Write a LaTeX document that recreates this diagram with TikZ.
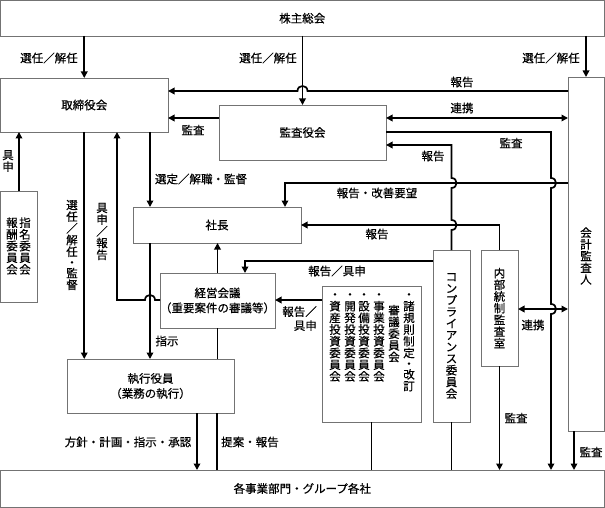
\documentclass[tikz,border=0pt]{standalone}
\usepackage{fontspec}
\setmainfont{Noto Sans CJK JP}[FakeBold=0.5]
\usetikzlibrary{arrows.meta}
\begin{document}
\begin{tikzpicture}[x=1pt,y=-1pt,
  box/.style={draw=black!55, line width=0.9pt, fill=white, inner sep=0pt, outer sep=0pt, anchor=north west, align=center, font=\fontsize{11.5}{15}\selectfont},
  con/.style={line width=1.7pt, draw=black},
  arr/.style={con, -{Triangle[length=6.5pt,width=6.5pt]}},
  darr/.style={con, {Triangle[length=6.5pt,width=6.5pt]}-{Triangle[length=6.5pt,width=6.5pt]}},
  lbl/.style={inner sep=0pt, font=\fontsize{11.5}{14}\selectfont},
  vt/.style={inner sep=0pt, align=center, font=\fontsize{11.5}{11.7}\selectfont}]
\useasboundingbox (0,0) rectangle (605,508);

% boxes
\node[box, minimum width=603.5pt, minimum height=35.5pt] (kabu) at (0.5,0.5) {株主総会};
\node[box, minimum width=167.5pt, minimum height=54pt] (tori) at (0.5,78) {取締役会};
\node[box, minimum width=167pt, minimum height=55pt] (kansa) at (219,105) {監査役会};
\node[box, minimum width=36pt, minimum height=354pt] (kaikei) at (568,77) {};
\node[box, minimum width=36.5pt, minimum height=111pt] (shimei) at (0.5,191) {};
\node[box, minimum width=168pt, minimum height=36pt] (shacho) at (133,207) {社長};
\node[box, minimum width=114pt, minimum height=55pt] (keiei) at (160,273) {経営会議\\（重要案件の審議等）};
\node[box, minimum width=99pt, minimum height=136pt] (comm) at (322,286) {};
\node[box, minimum width=37pt, minimum height=172pt] (comp) at (433,250) {};
\node[box, minimum width=37pt, minimum height=116pt] (naibu) at (481,250) {};
\node[box, minimum width=167pt, minimum height=54pt] (shikko) at (67,359) {執行役員\\（業務の執行）};
\node[box, minimum width=603.5pt, minimum height=37pt] (jigyo) at (0.5,470) {各事業部門・グループ各社};

% vertical texts in boxes
\node[vt] (kaikeiT) at (586,256) {会\\計\\監\\査\\人};
\node[vt] (compT) at (451.5,336) {コ\\ン\\プ\\ラ\\イ\\ア\\ン\\ス\\委\\員\\会};
\node[vt] (naibuT) at (499.5,308) {内\\部\\統\\制\\監\\査\\室};
\node[vt] (shimeiA) at (25,246) {指\\名\\委\\員\\会};
\node[vt] (shimeiB) at (12,246) {報\\酬\\委\\員\\会};
\node[vt, anchor=north] (c1) at (409,293) {・\\諸\\規\\則\\制\\定\\[-1pt]・\\[-1pt]改\\訂};
\node[vt, anchor=north] (c2) at (394,304.7) {審\\議\\委\\員\\会};
\node[vt, anchor=north] (c3) at (379,293) {・\\事\\業\\投\\資\\委\\員\\会};
\node[vt, anchor=north] (c4) at (364,293) {・\\設\\備\\投\\資\\委\\員\\会};
\node[vt, anchor=north] (c5) at (350,293) {・\\開\\発\\投\\資\\委\\員\\会};
\node[vt, anchor=north] (c6) at (335,293) {・\\資\\産\\投\\資\\委\\員\\会};

% connectors from shareholders
\draw[arr] (kabu.south -| tori.north) -- (tori.north);
\draw[arr] (kabu.south -| kansa.north) -- (kansa.north);
\draw[arr] (kabu.south -| kaikei.north) -- (kaikei.north);
\node[lbl] (l1) at (49,58) {選任／解任};
\node[lbl] (l2) at (268,58) {選任／解任};
\node[lbl] (l3) at (551,58) {選任／解任};

% 報告 from auditor to board with jump
\draw[arr] (kaikei.west |- 0,91) -- (307.5,91) .. controls (307.5,84.3) and (297.5,84.3) .. (297.5,91) -- (tori.east |- 0,91);
\node[lbl] (l4) at (462,82) {報告};
% 連携
\draw[darr] (kansa.east |- 0,118) -- (kaikei.west |- 0,118);
\node[lbl] (l5) at (462,108) {連携};
% 監査 to board
\draw[arr] (kansa.west |- 0,118) -- (tori.east |- 0,118);
\node[lbl] (l6) at (193,130) {監査};
% 監査 from kansa to group
\draw[arr] (kansa.east |- 0,132) -- (551,132) -- (551,178) .. controls (557.7,178) and (557.7,188) .. (551,188) -- (551,304) .. controls (557.7,304) and (557.7,314) .. (551,314) -- (jigyo.north -| 551,0);
\node[lbl] (l7) at (511,143) {監査};
% 報告 from compliance to kansa
\draw[arr] (comp.north) -- (comp.north |- 0,230) .. controls (458.2,230) and (458.2,220) .. (451.5,220) -- (451.5,188) .. controls (458.2,188) and (458.2,178) .. (451.5,178) -- (451.5,145) -- (kansa.east |- 0,145);
\node[lbl] (l8) at (433,156) {報告};
% 報告・改善要望
\draw[arr] (kaikei.west |- 0,183) -- (285,183) -- (shacho.north -| 285,0);
\node[lbl] (l9) at (377,193) {報告・改善要望};
% 報告 internal control to president
\draw[arr] (naibu.north) -- (naibu.north |- 0,225) -- (shacho.east |- 0,225);
\node[lbl] (l10) at (377,234) {報告};
% 報告／具申 compliance to management meeting
\draw[arr] (comp.west |- 0,261) -- (245,261) -- (keiei.north -| 245,0);
\node[lbl] (l11) at (337,271) {報告／具申};
% committees to management meeting
\draw[arr] (comm.west |- 0,300) -- (keiei.east |- 0,300);
\node[lbl, align=right, anchor=north east] (l12) at (317,306) {報告／\\具申};
% 連携 internal control - auditor
\draw[darr] (naibu.east |- 0,309) -- (kaikei.west |- 0,309);
\node[lbl] (l13) at (533,325) {連携};
% 監査 downward
\draw[arr] (naibu.south) -- (jigyo.north -| naibu.south);
\node[lbl] (l14) at (516,418) {監査};
\draw[arr] (kaikei.south -| 574,0) -- (jigyo.north -| 574,0);
\node[lbl] (l15) at (591,452) {監査};
\draw[con] (comm.south) -- (jigyo.north -| comm.south);
\draw[con] (comp.south) -- (jigyo.north -| comp.south);

% left side
\draw[arr] (shimei.north -| 19,0) -- (tori.south -| 19,0);
\node[vt] (l16) at (8,161) {具\\申};
\draw[arr] (tori.south) -- (shikko.north -| tori.south);
\node[vt] (l17) at (72,245) {選\\任\\／\\解\\任\\[-1pt]・\\[-1pt]監\\督};
\draw[arr] (keiei.west |- 0,300) -- (155,300) .. controls (155,293.3) and (145,293.3) .. (145,300) -- (117,300) -- (tori.south -| 117,0);
\node[vt] (l18) at (102,231.5) {具\\申\\／\\報\\告};
\draw[arr] (tori.south -| 150,0) -- (shacho.north -| 150,0);
\node[lbl] (l19) at (201,179) {選定／解職・監督};
\draw[arr] (shacho.south -| 150,0) -- (shikko.north -| 150,0);
\node[lbl] (l20) at (167,341) {指示};
\draw[arr] (shikko.south -| 197,0) -- (jigyo.north -| 197,0);
\node[lbl] (l21) at (128,442) {方針・計画・指示・承認};
\draw[con] (jigyo.north -| 217,0) -- (shikko.south -| 217,0);
\node[lbl] (l22) at (250,442) {提案・報告};
\draw[arr] (keiei.north) -- (shacho.south -| keiei.north);
\draw[con] (shikko.north -| keiei.south) -- (keiei.south);
\end{tikzpicture}
\end{document}
